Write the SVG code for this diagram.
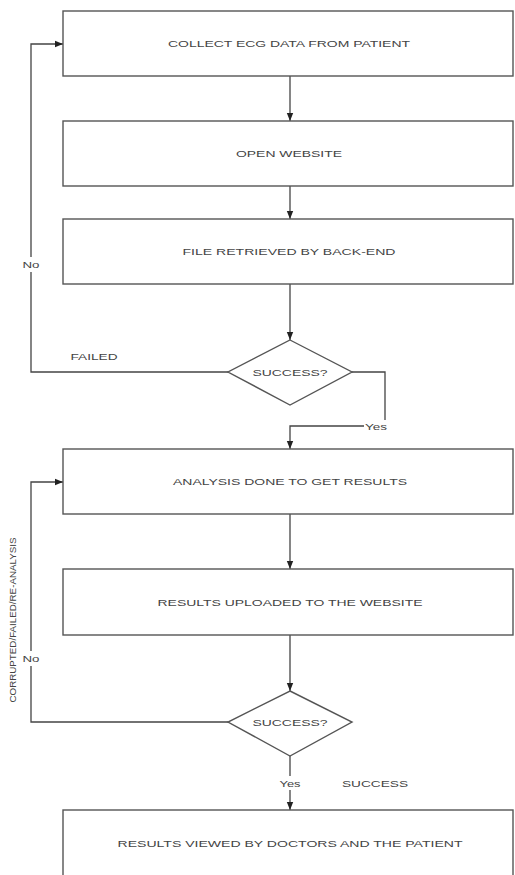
<svg xmlns="http://www.w3.org/2000/svg" width="515" height="875" viewBox="0 0 515 875">
<style>
.box{fill:#fff;stroke:#555;stroke-width:1.4}
.t{font-family:"Liberation Sans",Arial,sans-serif;font-size:9.5px;fill:#444;text-anchor:middle;dominant-baseline:central}
.c{fill:none;stroke:#444;stroke-width:1.3}
.bg{fill:#fff}
</style>
<defs>
<marker id="ah" markerUnits="userSpaceOnUse" markerWidth="8" markerHeight="8" viewBox="0 0 8 8" refX="8" refY="4" orient="auto">
<path d="M0,0.8 L8,4 L0,7.2 Z" fill="#222"/>
</marker>
</defs>
<rect width="515" height="875" fill="#fff"/>
<g id="connectors">
<path class="c" d="M290,76 V121" marker-end="url(#ah)"/>
<path class="c" d="M290,186 V219" marker-end="url(#ah)"/>
<path class="c" d="M290,284 V340" marker-end="url(#ah)"/>
<path class="c" d="M228,372 H31 V44 H63" marker-end="url(#ah)"/>
<path class="c" d="M352,372 H385 V426 H290 V449" marker-end="url(#ah)"/>
<path class="c" d="M290,514 V569" marker-end="url(#ah)"/>
<path class="c" d="M290,635 V691" marker-end="url(#ah)"/>
<path class="c" d="M228,722 H31 V482 H63" marker-end="url(#ah)"/>
<path class="c" d="M290,756 V810" marker-end="url(#ah)"/>
<rect class="bg" x="22" y="257" width="19" height="15"/>
<text class="t" x="31" y="264" textLength="17" lengthAdjust="spacingAndGlyphs">No</text>
<rect class="bg" x="22" y="651" width="19" height="15"/>
<text class="t" x="31" y="658" textLength="17" lengthAdjust="spacingAndGlyphs">No</text>
<rect class="bg" x="364" y="420" width="24" height="12"/>
<text class="t" x="376" y="426" textLength="22" lengthAdjust="spacingAndGlyphs">Yes</text>
<rect class="bg" x="278" y="776" width="24" height="14"/>
<text class="t" x="290" y="783" textLength="21" lengthAdjust="spacingAndGlyphs">Yes</text>
<text class="t" x="94" y="356" textLength="47" lengthAdjust="spacingAndGlyphs">FAILED</text>
<text class="t" x="375" y="783" textLength="66" lengthAdjust="spacingAndGlyphs">SUCCESS</text>
<text class="t" transform="translate(12,620) rotate(-90)" x="0" y="0" textLength="165" lengthAdjust="spacingAndGlyphs">CORRUPTED/FAILED/RE-ANALYSIS</text>
</g>
<g id="n1">
<rect class="box" x="63" y="11" width="450" height="65"/>
<text class="t" x="289" y="43" textLength="242" lengthAdjust="spacingAndGlyphs">COLLECT ECG DATA FROM PATIENT</text>
</g>
<g id="n2">
<rect class="box" x="63" y="121" width="450" height="65"/>
<text class="t" x="289" y="153" textLength="106" lengthAdjust="spacingAndGlyphs">OPEN WEBSITE</text>
</g>
<g id="n3">
<rect class="box" x="63" y="219" width="450" height="65"/>
<text class="t" x="289" y="251" textLength="213" lengthAdjust="spacingAndGlyphs">FILE RETRIEVED BY BACK-END</text>
</g>
<g id="d1">
<polygon class="box" points="290,340 352,372 290,405 228,372"/>
<text class="t" x="290" y="372" textLength="75" lengthAdjust="spacingAndGlyphs">SUCCESS?</text>
</g>
<g id="n4">
<rect class="box" x="63" y="449" width="450" height="65"/>
<text class="t" x="290" y="481" textLength="234" lengthAdjust="spacingAndGlyphs">ANALYSIS DONE TO GET RESULTS</text>
</g>
<g id="n5">
<rect class="box" x="63" y="569" width="450" height="66"/>
<text class="t" x="290" y="602" textLength="265" lengthAdjust="spacingAndGlyphs">RESULTS UPLOADED TO THE WEBSITE</text>
</g>
<g id="d2">
<polygon class="box" points="290,691 352,722 290,756 228,722"/>
<text class="t" x="290" y="722" textLength="75" lengthAdjust="spacingAndGlyphs">SUCCESS?</text>
</g>
<g id="n6">
<rect class="box" x="63" y="810" width="450" height="70"/>
<text class="t" x="290" y="843" textLength="345" lengthAdjust="spacingAndGlyphs">RESULTS VIEWED BY DOCTORS AND THE PATIENT</text>
</g>
</svg>
